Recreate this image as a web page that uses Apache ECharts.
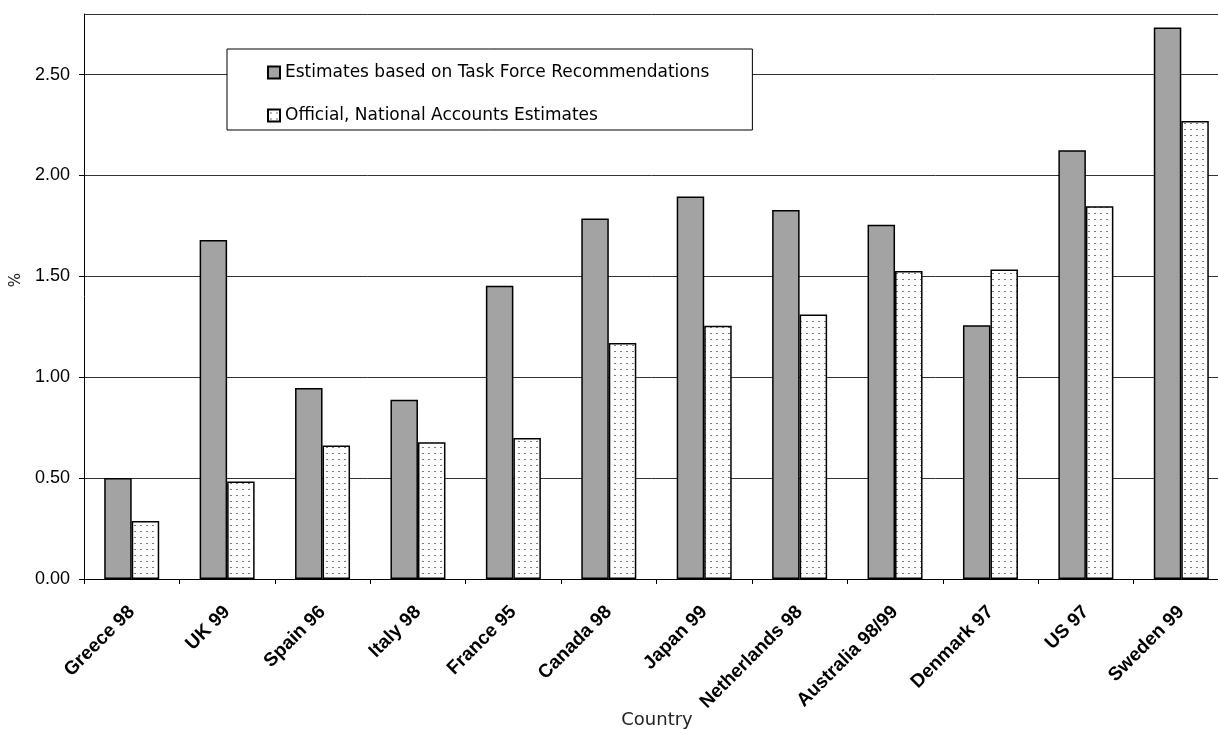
<!DOCTYPE html>
<html>
<head>
<meta charset="utf-8">
<script src="https://cdn.jsdelivr.net/npm/echarts@6/dist/echarts.min.js"></script>
<style>
  html, body { margin: 0; padding: 0; background: #fff; overflow: hidden; }
  #chart { width: 1218px; height: 729px; }
</style>
</head>
<body>
<div id="chart"></div>
<script>
const categories = ['Greece 98', 'UK 99', 'Spain 96', 'Italy 98', 'France 95', 'Canada 98', 'Japan 99', 'Netherlands 98', 'Australia 98/99', 'Denmark 97', 'US 97', 'Sweden 99'];
const taskForceValues = [0.50, 1.68, 0.947, 0.888, 1.453, 1.787, 1.895, 1.829, 1.756, 1.257, 2.125, 2.733];
const officialValues = [0.288, 0.483, 0.661, 0.678, 0.699, 1.17, 1.255, 1.311, 1.526, 1.534, 1.847, 2.270];
const seriesNames = ['Estimates based on Task Force Recommendations', 'Official, National Accounts Estimates'];
const xAxisTitle = 'Country';
const yAxisTitle = '%';
const yTickStep = 0.5;
const yMin = 0;
const yMax = 2.8;

function makeDots() {
  const c = document.createElement('canvas');
  c.width = 6; c.height = 6;
  const ctx = c.getContext('2d');
  ctx.fillStyle = '#ffffff';
  ctx.fillRect(0, 0, 6, 6);
  ctx.fillStyle = '#7a7a7a';
  ctx.fillRect(2, 3, 2, 1);
  return c;
}

const chart = echarts.init(document.getElementById('chart'), null, { renderer: 'canvas' });
chart.setOption({
  animation: false,
  backgroundColor: '#ffffff',
  grid: { left: 84, top: 14, width: 1145, height: 565, outerBoundsMode: 'none' },
  legend: {
    orient: 'vertical',
    left: 227,
    top: 49,
    icon: 'rect',
    itemWidth: 12,
    itemHeight: 12,
    itemGap: 26,
    padding: [15, 43, 6, 40],
    backgroundColor: '#ffffff',
    borderColor: '#000000',
    borderWidth: 1,
    borderRadius: 0,
    textStyle: { fontFamily: 'DejaVu Sans', fontSize: 17, lineHeight: 17, color: '#000' },
    data: seriesNames
  },
  xAxis: {
    type: 'category',
    data: categories,
    axisLine: { lineStyle: { color: '#000', width: 1 } },
    axisTick: { show: true, length: 5, lineStyle: { color: '#000' } },
    axisLabel: {
      interval: 0,
      rotate: 45,
      margin: 30,
      fontFamily: 'Liberation Sans',
      fontWeight: 'bold',
      fontSize: 19,
      color: '#000'
    }
  },
  yAxis: {
    type: 'value',
    min: yMin,
    max: yMax,
    interval: yTickStep,
    axisLine: { show: true, lineStyle: { color: '#000', width: 1 } },
    axisTick: { show: true, length: 5, lineStyle: { color: '#000' } },
    axisLabel: {
      showMaxLabel: false,
      margin: 14,
      fontFamily: 'Liberation Sans',
      fontSize: 18,
      color: '#000',
      formatter: v => v.toFixed(2)
    },
    splitLine: { show: true, lineStyle: { color: '#333', width: 1 } }
  },
  graphic: [{
    type: 'text',
    left: 9,
    top: 273,
    rotation: Math.PI / 2,
    style: { text: yAxisTitle, fontFamily: 'DejaVu Sans', fontSize: 15, fill: '#222' }
  }, {
    type: 'text',
    x: 657,
    y: 720,
    style: { text: xAxisTitle, fontFamily: 'DejaVu Sans', fontSize: 18, fill: '#222', align: 'center', verticalAlign: 'middle' }
  }],
  series: [
    {
      name: seriesNames[0],
      type: 'bar',
      data: taskForceValues,
      barWidth: 27.5,
      barGap: '0%',
      itemStyle: { color: '#a3a3a3', borderColor: '#000', borderWidth: 1.5 }
    },
    {
      name: seriesNames[1],
      type: 'bar',
      data: officialValues,
      barWidth: 27.5,
      barGap: '0%',
      itemStyle: { color: { image: makeDots(), repeat: 'repeat' }, borderColor: '#000', borderWidth: 1.5 }
    }
  ]
});
</script>
</body>
</html>
